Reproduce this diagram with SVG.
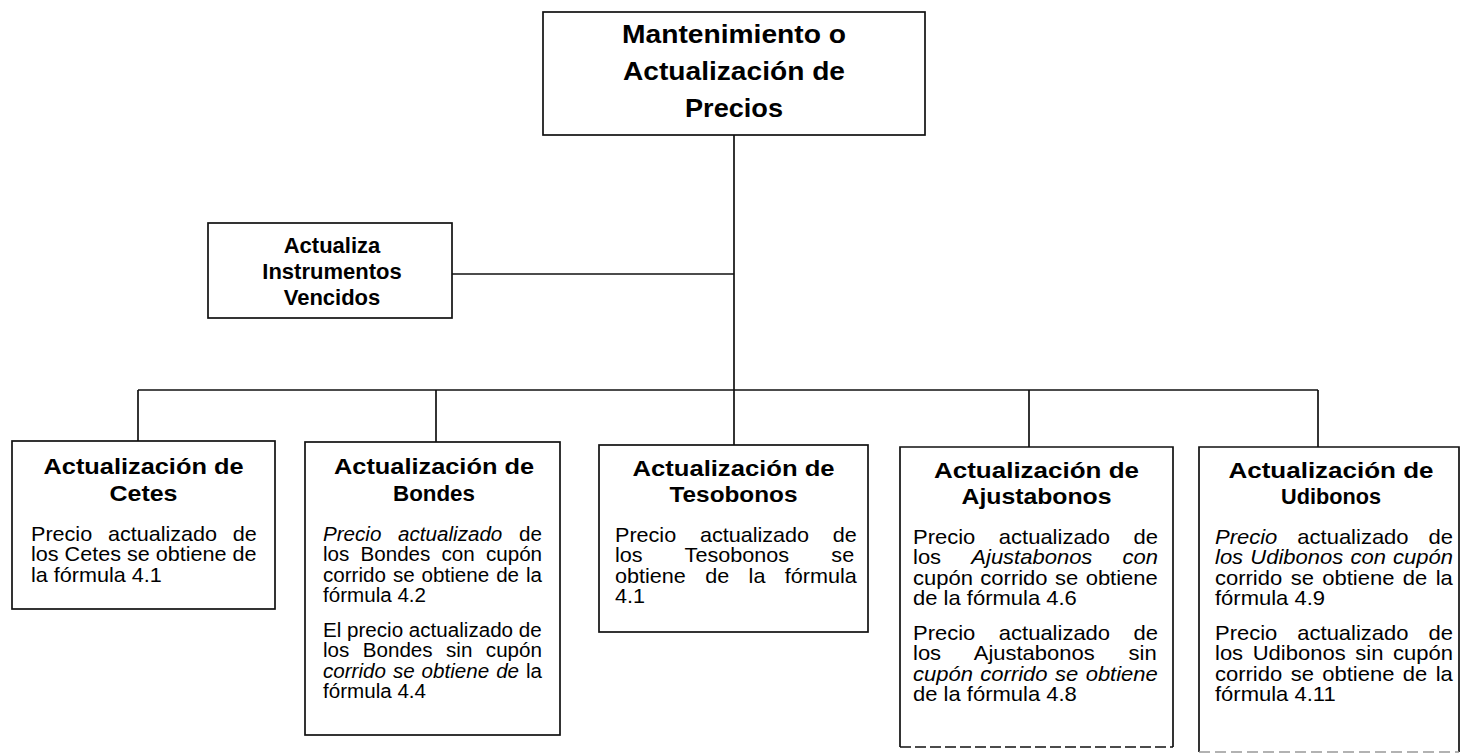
<svg xmlns="http://www.w3.org/2000/svg" width="1462" height="756" viewBox="0 0 1462 756">
<style>
.box{fill:#fff;stroke:#111;stroke-width:1.7}
.conn{stroke:#111;stroke-width:1.7;fill:none}
.t{font-family:"Liberation Sans",Arial,sans-serif;font-weight:bold;fill:#000;text-anchor:middle}
.b{font-family:"Liberation Sans",Arial,sans-serif;font-size:20px;fill:#000}
.i{font-style:italic}
</style>
<rect width="1462" height="756" fill="#fff"/>
<g id="connectors">
<path class="conn" d="M734,135 V446"/>
<path class="conn" d="M452,274 H734"/>
<path class="conn" d="M138,390 H1318"/>
<path class="conn" d="M138,390 V441"/>
<path class="conn" d="M436,390 V442"/>
<path class="conn" d="M1029,390 V447"/>
<path class="conn" d="M1318,390 V447"/>
</g>
<g id="root">
<rect class="box" x="543" y="12" width="382" height="123"/>
<text class="t" x="734" y="43" font-size="25" textLength="224" lengthAdjust="spacingAndGlyphs">Mantenimiento o</text>
<text class="t" x="734" y="80" font-size="25" textLength="222" lengthAdjust="spacingAndGlyphs">Actualización de</text>
<text class="t" x="734" y="117" font-size="25" textLength="98" lengthAdjust="spacingAndGlyphs">Precios</text>
</g>
<g id="vencidos">
<rect class="box" x="208" y="223" width="244" height="95"/>
<text class="t" x="332" y="253" font-size="22">Actualiza</text>
<text class="t" x="332" y="279" font-size="22">Instrumentos</text>
<text class="t" x="332" y="305" font-size="22">Vencidos</text>
</g>
<g id="cetes">
<rect class="box" x="12" y="441" width="263" height="168"/>
<text class="t" x="143.5" y="474" font-size="22" textLength="200" lengthAdjust="spacingAndGlyphs">Actualización de</text>
<text class="t" x="143.5" y="501" font-size="22" textLength="68" lengthAdjust="spacingAndGlyphs">Cetes</text>
<g transform="translate(31,0) scale(1.08,1)">
<text class="b" x="0" y="541" style="word-spacing:9px">Precio actualizado de</text>
<text class="b" x="0" y="561.5">los Cetes se obtiene de</text>
<text class="b" x="0" y="582">la fórmula 4.1</text>
</g>
</g>
<g id="bondes">
<rect class="box" x="305" y="442" width="255" height="293"/>
<text class="t" x="434" y="474" font-size="22" textLength="200" lengthAdjust="spacingAndGlyphs">Actualización de</text>
<text class="t" x="434" y="501" font-size="22" textLength="82" lengthAdjust="spacingAndGlyphs">Bondes</text>
<g transform="translate(323,0) scale(1.03,1)">
<text class="b" x="0" y="541" style="word-spacing:10.7px"><tspan class="i">Precio actualizado</tspan> de</text>
<text class="b" x="0" y="561.5" style="word-spacing:5.3px">los Bondes con cupón</text>
<text class="b" x="0" y="582" style="word-spacing:1.2px">corrido se obtiene de la</text>
<text class="b" x="0" y="602.5">fórmula 4.2</text>
<text class="b" x="0" y="637">El precio actualizado de</text>
<text class="b" x="0" y="657.5" style="word-spacing:7.5px">los Bondes sin cupón</text>
<text class="b" x="0" y="678" style="word-spacing:1.2px"><tspan class="i">corrido se obtiene de</tspan> la</text>
<text class="b" x="0" y="698.5">fórmula 4.4</text>
</g>
</g>
<g id="tesobonos">
<rect class="box" x="599" y="445" width="269" height="187"/>
<text class="t" x="733.5" y="476" font-size="22" textLength="202" lengthAdjust="spacingAndGlyphs">Actualización de</text>
<text class="t" x="733.5" y="502" font-size="22" textLength="128" lengthAdjust="spacingAndGlyphs">Tesobonos</text>
<g transform="translate(615,0) scale(1.08,1)">
<text class="b" x="0" y="542" style="word-spacing:16.4px">Precio actualizado de</text>
<text class="b" x="0" y="562.5" style="word-spacing:33.7px">los Tesobonos se</text>
<text class="b" x="0" y="583" style="word-spacing:12.4px">obtiene de la fórmula</text>
<text class="b" x="0" y="603.5">4.1</text>
</g>
</g>
<g id="ajustabonos">
<path class="box" d="M900,747 V447 H1173 V747"/>
<path d="M900,747 H1173" stroke="#111" stroke-width="1.7" stroke-dasharray="11 4" fill="none"/>
<text class="t" x="1036.5" y="478" font-size="22" textLength="205" lengthAdjust="spacingAndGlyphs">Actualización de</text>
<text class="t" x="1036.5" y="504" font-size="22" textLength="150" lengthAdjust="spacingAndGlyphs">Ajustabonos</text>
<g transform="translate(913,0) scale(1.1,1)">
<text class="b" x="0" y="544" style="word-spacing:15.8px">Precio actualizado de</text>
<text class="b" x="0" y="564.5" style="word-spacing:21.9px">los <tspan class="i">Ajustabonos con</tspan></text>
<text class="b" x="0" y="585" style="word-spacing:1.2px">cupón corrido se obtiene</text>
<text class="b" x="0" y="605.5">de la fórmula 4.6</text>
<text class="b" x="0" y="640" style="word-spacing:15.8px">Precio actualizado de</text>
<text class="b" x="0" y="660.5" style="word-spacing:25.2px">los Ajustabonos sin</text>
<text class="b" x="0" y="681" style="word-spacing:1.2px"><tspan class="i">cupón corrido se obtiene</tspan></text>
<text class="b" x="0" y="701.5">de la fórmula 4.8</text>
</g>
</g>
<g id="udibonos">
<path class="box" d="M1199,752 V447 H1459 V752"/>
<path d="M1199,752 H1459" stroke="#999" stroke-width="1.7" stroke-dasharray="11 5" fill="none"/>
<text class="t" x="1331" y="478" font-size="22" textLength="205" lengthAdjust="spacingAndGlyphs">Actualización de</text>
<text class="t" x="1331" y="504" font-size="22" textLength="100" lengthAdjust="spacingAndGlyphs">Udibonos</text>
<g transform="translate(1215,0) scale(1.1,1)">
<text class="b" x="0" y="544" style="word-spacing:12.6px"><tspan class="i">Precio</tspan> actualizado de</text>
<text class="b" x="0" y="564.5" style="word-spacing:1px"><tspan class="i">los Udibonos con cupón</tspan></text>
<text class="b" x="0" y="585" style="word-spacing:2.1px">corrido se obtiene de la</text>
<text class="b" x="0" y="605.5">fórmula 4.9</text>
<text class="b" x="0" y="640" style="word-spacing:12.6px">Precio actualizado de</text>
<text class="b" x="0" y="660.5" style="word-spacing:3.2px">los Udibonos sin cupón</text>
<text class="b" x="0" y="681" style="word-spacing:2.1px">corrido se obtiene de la</text>
<text class="b" x="0" y="701.5">fórmula 4.11</text>
</g>
</g>
</svg>
